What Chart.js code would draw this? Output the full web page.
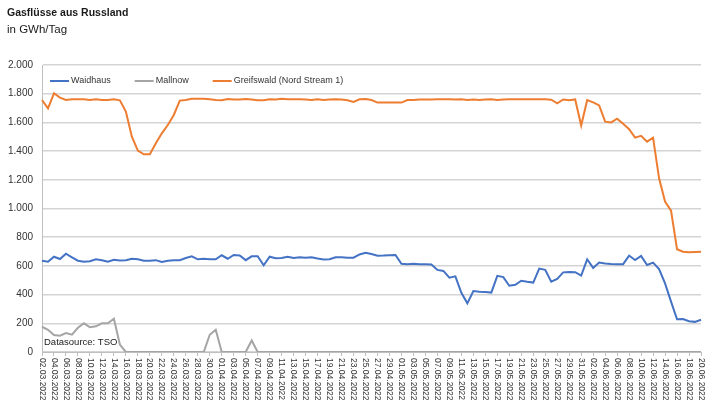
<!DOCTYPE html>
<html>
<head>
<meta charset="utf-8">
<script src="https://cdn.jsdelivr.net/npm/chart.js@4.4.1/dist/chart.umd.min.js"></script>
<style>
  html, body { margin: 0; padding: 0; background: #fff; }
  #wrap { width: 721px; height: 411px; }
</style>
</head>
<body>
<div id="wrap"><canvas id="chart" width="721" height="411"></canvas></div>
<script>
// Tageswerte 02.03.2022 - 20.06.2022
const dates = [
  "02.03.2022","03.03.2022","04.03.2022","05.03.2022","06.03.2022","07.03.2022","08.03.2022","09.03.2022","10.03.2022","11.03.2022",
  "12.03.2022","13.03.2022","14.03.2022","15.03.2022","16.03.2022","17.03.2022","18.03.2022","19.03.2022","20.03.2022","21.03.2022",
  "22.03.2022","23.03.2022","24.03.2022","25.03.2022","26.03.2022","27.03.2022","28.03.2022","29.03.2022","30.03.2022","31.03.2022",
  "01.04.2022","02.04.2022","03.04.2022","04.04.2022","05.04.2022","06.04.2022","07.04.2022","08.04.2022","09.04.2022","10.04.2022",
  "11.04.2022","12.04.2022","13.04.2022","14.04.2022","15.04.2022","16.04.2022","17.04.2022","18.04.2022","19.04.2022","20.04.2022",
  "21.04.2022","22.04.2022","23.04.2022","24.04.2022","25.04.2022","26.04.2022","27.04.2022","28.04.2022","29.04.2022","30.04.2022",
  "01.05.2022","02.05.2022","03.05.2022","04.05.2022","05.05.2022","06.05.2022","07.05.2022","08.05.2022","09.05.2022","10.05.2022",
  "11.05.2022","12.05.2022","13.05.2022","14.05.2022","15.05.2022","16.05.2022","17.05.2022","18.05.2022","19.05.2022","20.05.2022",
  "21.05.2022","22.05.2022","23.05.2022","24.05.2022","25.05.2022","26.05.2022","27.05.2022","28.05.2022","29.05.2022","30.05.2022",
  "31.05.2022","01.06.2022","02.06.2022","03.06.2022","04.06.2022","05.06.2022","06.06.2022","07.06.2022","08.06.2022","09.06.2022",
  "10.06.2022","11.06.2022","12.06.2022","13.06.2022","14.06.2022","15.06.2022","16.06.2022","17.06.2022","18.06.2022","19.06.2022",
  "20.06.2022"
];

const waidhaus = [
  636, 629, 664, 648, 685, 660, 636, 629, 633, 646,
  640, 629, 643, 638, 640, 650, 646, 636, 636, 640,
  627, 636, 640, 640, 655, 667, 646, 650, 646, 646,
  674, 650, 676, 672, 640, 667, 667, 604, 664, 653,
  655, 664, 655, 660, 657, 660, 651, 645, 646, 660,
  660, 657, 657, 680, 692, 683, 671, 672, 674, 676,
  615, 612, 615, 612, 612, 610, 572, 565, 518, 527,
  413, 339, 425, 420, 418, 414, 531, 522, 462, 468,
  497, 490, 484, 581, 573, 490, 510, 555, 558, 556,
  532, 646, 586, 623, 617, 613, 612, 612, 672, 641,
  669, 606, 623, 578, 478, 351, 228, 230, 215, 210,
  225
];

const mallnow = [
  176, 155, 118, 114, 132, 121, 169, 200, 172, 179,
  200, 200, 232, 52, 0, 0, 0, 0, 0, 0,
  0, 0, 0, 0, 0, 0, 0, 0, 120, 155,
  0, 0, 0, 0, 0, 80, 0, 0, 0, 0,
  0, 0, 0, 0, 0, 0, 0, 0, 0, 0,
  0, 0, 0, 0, 0, 0, 0, 0, 0, 0,
  0, 0, 0, 0, 0, 0, 0, 0, 0, 0,
  0, 0, 0, 0, 0, 0, 0, 0, 0, 0,
  0, 0, 0, 0, 0, 0, 0, 0, 0, 0,
  0, 0, 0, 0, 0, 0, 0, 0, 0, 0,
  0, 0, 0, 0, 0, 0, 0, 0, 0, 0,
  0
];

const greifswald = [
  1756, 1698, 1803, 1773, 1756, 1761, 1761, 1761, 1756, 1761,
  1756, 1756, 1761, 1754, 1675, 1500, 1403, 1378, 1378, 1454,
  1524, 1582, 1652, 1752, 1756, 1765, 1765, 1765, 1761, 1756,
  1754, 1763, 1759, 1759, 1763, 1759, 1754, 1754, 1761, 1759,
  1765, 1761, 1761, 1761, 1759, 1756, 1761, 1756, 1759, 1761,
  1759, 1754, 1743, 1761, 1763, 1756, 1738, 1738, 1738, 1738,
  1738, 1756, 1756, 1759, 1759, 1759, 1761, 1761, 1761, 1759,
  1761, 1756, 1759, 1756, 1759, 1761, 1756, 1759, 1761, 1761,
  1761, 1761, 1761, 1761, 1761, 1758, 1733, 1760, 1755, 1760,
  1578, 1755, 1740, 1718, 1605, 1600, 1626, 1590, 1552, 1494,
  1506, 1466, 1494, 1210, 1048, 985, 716, 699, 695, 697,
  699
];

const seriesNames = ["Waidhaus", "Mallnow", "Greifswald (Nord Stream 1)"];
const seriesColors = ["#4472C4", "#A5A5A5", "#ED7D31"];
const yTicks = [0, 200, 400, 600, 800, 1000, 1200, 1400, 1600, 1800, 2000];

const titleText = "Gasflüsse aus Russland";
const subtitleText = "in GWh/Tag";
const sourceText = "Datasource: TSO";

const FONT = "'Liberation Sans', Arial, sans-serif";

// Tausender mit Punkt
function formatDe(v) {
  return v >= 1000 ? Math.floor(v / 1000) + "." + String(v % 1000).padStart(3, "0") : String(v);
}

// Titel, Legende, Quelle und gedrehte Datumslabels
const decorations = {
  id: "decorations",
  afterDraw(chart) {
    const ctx = chart.ctx;
    const area = chart.chartArea;
    ctx.save();

    ctx.fillStyle = "#1a1a1a";
    ctx.textBaseline = "middle";
    ctx.textAlign = "left";
    ctx.font = "bold 10.5px " + FONT;
    ctx.fillText(titleText, 7, 13);
    ctx.font = "11.5px " + FONT;
    ctx.fillText(subtitleText, 7, 30);

    // Legende im Diagramm
    ctx.font = "9px " + FONT;
    let x = area.left + 8;
    const y = area.top + 16;
    chart.data.datasets.forEach((ds) => {
      ctx.strokeStyle = ds.borderColor;
      ctx.lineWidth = 2;
      ctx.beginPath();
      ctx.moveTo(x, y);
      ctx.lineTo(x + 19, y);
      ctx.stroke();
      ctx.fillStyle = "#333";
      ctx.fillText(ds.label, x + 21, y);
      x += 21 + ctx.measureText(ds.label).width + 24;
    });

    // Quelle
    ctx.font = "9.5px " + FONT;
    ctx.fillStyle = "#1a1a1a";
    ctx.fillText(sourceText, area.left + 2, area.bottom - 10);

    // x-Labels, im Uhrzeigersinn gedreht
    const xs = chart.scales.x;
    ctx.font = "8.5px " + FONT;
    ctx.fillStyle = "#333";
    dates.forEach((d, i) => {
      if (i % 2 !== 0) return;
      const px = xs.getPixelForValue(i);
      ctx.save();
      ctx.translate(px, area.bottom + 6);
      ctx.rotate(Math.PI / 2);
      ctx.textAlign = "left";
      ctx.textBaseline = "middle";
      ctx.fillText(d, 0, 0);
      ctx.restore();
    });

    ctx.restore();
  }
};

const ctx = document.getElementById("chart").getContext("2d");
new Chart(ctx, {
  type: "line",
  data: {
    labels: dates,
    datasets: [
      { label: seriesNames[0], data: waidhaus, borderColor: seriesColors[0] },
      { label: seriesNames[1], data: mallnow, borderColor: seriesColors[1] },
      { label: seriesNames[2], data: greifswald, borderColor: seriesColors[2] },
    ].map((ds) => ({ ...ds, borderWidth: 2, pointRadius: 0, tension: 0, fill: false })),
  },
  options: {
    responsive: false,
    animation: false,
    devicePixelRatio: 1,
    layout: { padding: { top: 65, left: 8, right: 20, bottom: 8 } },
    plugins: {
      legend: { display: false },
      title: { display: false },
      tooltip: { enabled: false },
    },
    scales: {
      x: {
        type: "category",
        offset: false,
        grid: { drawOnChartArea: false, drawTicks: true, tickLength: 4, color: "#bfbfbf" },
        border: { color: "#bfbfbf", width: 1 },
        ticks: {
          autoSkip: false,
          minRotation: 90,
          maxRotation: 90,
          padding: 2,
          color: "rgba(0,0,0,0)",
          font: { family: FONT, size: 8.5 },
          callback: (v, i) => (i % 2 === 0 ? dates[i] : null),
        },
        afterFit: (scale) => {
          scale.paddingLeft = 0;
          scale.paddingRight = 0;
          scale.height = 51;
        },
      },
      y: {
        min: 0,
        max: 2000,
        afterBuildTicks: (scale) => { scale.ticks = yTicks.map((v) => ({ value: v })); },
        afterFit: (scale) => { scale.width = 34; },
        grid: { color: "#d4d4d4", lineWidth: 1.5, drawTicks: false },
        border: { color: "#bfbfbf", width: 1 },
        ticks: {
          padding: 9,
          color: "#333",
          font: { family: FONT, size: 10 },
          callback: (v) => formatDe(v),
        },
      },
    },
  },
  plugins: [decorations],
});
</script>
</body>
</html>
